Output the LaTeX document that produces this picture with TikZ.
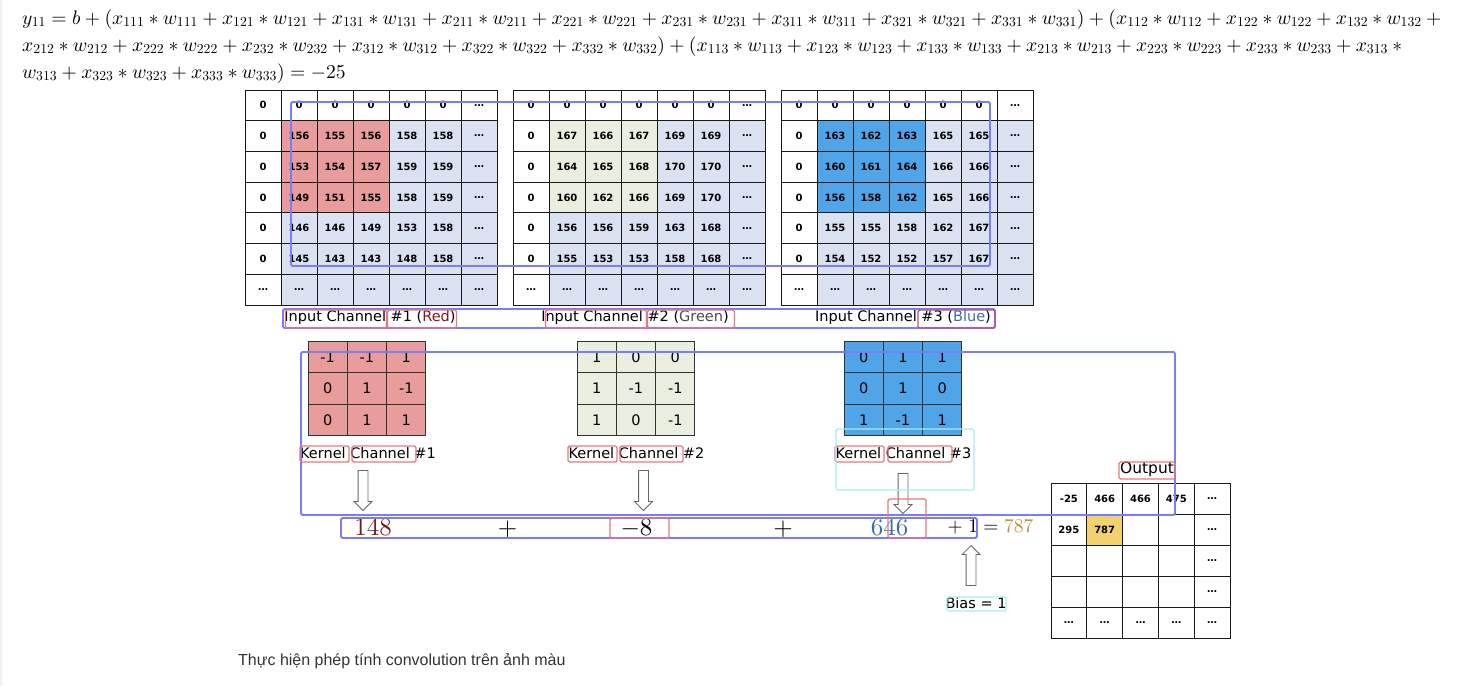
\RequirePackage{fix-cm}
\documentclass[tikz,border=0pt]{standalone}
\usepackage[no-math]{fontspec}
\newfontfamily\cellfont{DejaVu Sans}
\newfontfamily\capfont{Liberation Sans}
\usepackage{amsmath}
\DeclareFontShape{OT1}{cmr}{m}{n}{<->cmr10}{}
\DeclareFontShape{OML}{cmm}{m}{it}{<->cmmi10}{}
\DeclareFontShape{OMS}{cmsy}{m}{n}{<->cmsy10}{}
\usetikzlibrary{positioning}
\usetikzlibrary{shapes.arrows}
\definecolor{redcell}{RGB}{232,156,156}
\definecolor{greencell}{RGB}{234,238,222}
\definecolor{bluecell}{RGB}{80,164,232}
\definecolor{lightcell}{RGB}{218,226,241}
\definecolor{yellowcell}{RGB}{242,210,110}
\definecolor{boxblue}{RGB}{122,126,246}
\definecolor{boxred}{RGB}{232,118,128}
\definecolor{boxpurple}{RGB}{192,80,122}
\definecolor{boxcyan}{RGB}{166,238,244}
\definecolor{valred}{RGB}{122,26,26}
\definecolor{valblue}{RGB}{62,108,168}
\definecolor{valgold}{RGB}{180,146,56}
\definecolor{capgray}{RGB}{51,51,51}

\begin{document}
\begin{tikzpicture}[x=1pt,y=-1pt,
  cell/.style={draw=black!90, line width=0.8pt, minimum width=36pt, minimum height=30.7pt,
    inner sep=0pt, font=\cellfont\bfseries\fontsize{10}{12}\selectfont},
  ocell/.style={cell, minimum width=35.8pt, minimum height=31pt},
  kcell/.style={draw=black!80, line width=1pt, minimum width=39.3pt, minimum height=31.6pt,
    inner sep=0pt, font=\cellfont\fontsize{14.5}{17}\selectfont},
  label/.style={inner sep=0pt, font=\cellfont\fontsize{14.5}{17}\selectfont},
  bluebox/.style={draw=boxblue, line width=1.8pt, rounded corners=1.5pt},
  redbox/.style={draw=boxred, line width=1.4pt, rounded corners=1.5pt},
  cyanbox/.style={draw=boxcyan, line width=1.4pt, rounded corners=1.5pt},
  blockarrow/.style={single arrow, draw=black!60, fill=white, line width=0.8pt,
    minimum height=40pt, text height=4.5pt, text depth=4.5pt, inner sep=0pt,
    single arrow head extend=4pt, single arrow head indent=0pt},
  bignum/.style={inner sep=0pt, font=\fontsize{25}{29}\selectfont},
  formula/.style={anchor=base west, inner sep=0pt, font=\fontsize{19.6}{27}\selectfont}]

\useasboundingbox (0,0) rectangle (1457,686);
\fill[black!5] (0,0) rectangle (2,686);

%---------------------------------------
% Formula
%---------------------------------------
\node[formula] (f1) at (22,24) {$y_{11} = b + (x_{111} * w_{111} + x_{121} * w_{121} + x_{131} * w_{131} + x_{211} * w_{211} + x_{221} * w_{221} + x_{231} * w_{231} + x_{311} * w_{311} + x_{321} * w_{321} + x_{331} * w_{331}) + (x_{112} * w_{112} + x_{122} * w_{122} + x_{132} * w_{132} + {}$};
\node[formula] (f2) at (22,51) {$x_{212} * w_{212} + x_{222} * w_{222} + x_{232} * w_{232} + x_{312} * w_{312} + x_{322} * w_{322} + x_{332} * w_{332}) + (x_{113} * w_{113} + x_{123} * w_{123} + x_{133} * w_{133} + x_{213} * w_{213} + x_{223} * w_{223} + x_{233} * w_{233} + x_{313} * {}$};
\node[formula] (f3) at (22,78) {$w_{313} + x_{323} * w_{323} + x_{333} * w_{333}) = -25$};

% Input values
\def\redvals{{0,0,0,0,0,0,\ldots},{0,156,155,156,158,158,\ldots},{0,153,154,157,159,159,\ldots},{0,149,151,155,158,159,\ldots},{0,146,146,149,153,158,\ldots},{0,145,143,143,148,158,\ldots},{\ldots,\ldots,\ldots,\ldots,\ldots,\ldots,\ldots}}
\def\greenvals{{0,0,0,0,0,0,\ldots},{0,167,166,167,169,169,\ldots},{0,164,165,168,170,170,\ldots},{0,160,162,166,169,170,\ldots},{0,156,156,159,163,168,\ldots},{0,155,153,153,158,168,\ldots},{\ldots,\ldots,\ldots,\ldots,\ldots,\ldots,\ldots}}
\def\bluevals{{0,0,0,0,0,0,\ldots},{0,163,162,163,165,165,\ldots},{0,160,161,164,166,166,\ldots},{0,156,158,162,165,166,\ldots},{0,155,155,158,162,167,\ldots},{0,154,152,152,157,167,\ldots},{\ldots,\ldots,\ldots,\ldots,\ldots,\ldots,\ldots}}

%====================================================
% Input channel #1 (Red)
%====================================================
\begin{scope}[xshift=245pt]
  \fill[lightcell] (36,120.7) rectangle (252,304.9);
  \fill[redcell] (36,120.7) rectangle (144,212.1);
  \foreach \row [count=\i from 0] in \redvals {
    \foreach \v [count=\j from 0] in \row
      \node[cell] (r-\i-\j) at ({36*\j+18},{90+30.7*\i+15.35}) {\v};
  }
  \node[label] (rlab) at (125,317.5) {Input Channel \#1 (\textcolor{valred}{Red})};
\end{scope}

%====================================================
% Input channel #2 (Green)
%====================================================
\begin{scope}[xshift=513pt]
  \fill[lightcell] (36,120.7) rectangle (252,304.9);
  \fill[greencell] (36,120.7) rectangle (144,212.1);
  \foreach \row [count=\i from 0] in \greenvals {
    \foreach \v [count=\j from 0] in \row
      \node[cell] (g-\i-\j) at ({36*\j+18},{90+30.7*\i+15.35}) {\v};
  }
  \node[label] (glab) at (122,317.5) {Input Channel \#2 (\textcolor{black!70}{Green})};
\end{scope}

%====================================================
% Input channel #3 (Blue)
%====================================================
\begin{scope}[xshift=781pt]
  \fill[lightcell] (36,120.7) rectangle (252,304.9);
  \fill[bluecell] (36,120.7) rectangle (144,212.1);
  \foreach \row [count=\i from 0] in \bluevals {
    \foreach \v [count=\j from 0] in \row
      \node[cell] (b-\i-\j) at ({36*\j+18},{90+30.7*\i+15.35}) {\v};
  }
  \node[label] (blab) at (122,317.5) {Input Channel \#3 (\textcolor{valblue}{Blue})};
\end{scope}

%====================================================
% Kernels
%====================================================
\foreach \row [count=\i from 0] in {{-1,-1,1},{0,1,-1},{0,1,1}}
  \foreach \v [count=\j from 0] in \row
    \node[kcell, fill=redcell] (k1-\i-\j) at ({308+39.3*\j+19.65},{341+31.6*\i+15.8}) {\v};
\foreach \row [count=\i from 0] in {{1,0,0},{1,-1,-1},{1,0,-1}}
  \foreach \v [count=\j from 0] in \row
    \node[kcell, fill=greencell] (k2-\i-\j) at ({577+39.3*\j+19.65},{341+31.6*\i+15.8}) {\v};
\foreach \row [count=\i from 0] in {{0,1,1},{0,1,0},{1,-1,1}}
  \foreach \v [count=\j from 0] in \row
    \node[kcell, fill=bluecell] (k3-\i-\j) at ({844+39.3*\j+19.65},{341+31.6*\i+15.8}) {\v};

\node[label] (k1lab) at (368,453.5) {Kernel Channel \#1};
\node[label] (k2lab) at (636.5,453.5) {Kernel Channel \#2};
\node[label] (k3lab) at (903.5,453.5) {Kernel Channel \#3};

% Arrows
\node[blockarrow, rotate=-90] (a1) at (363,488) {};
\node[blockarrow, rotate=-90] (a2) at (643.5,488) {};
\node[blockarrow, rotate=-90] (a3) at (903,491) {};
\node[blockarrow, rotate=90] (a4) at (971,568) {};
\node[label] (bias) at (976,603.5) {Bias = 1};

% Sum
\node[bignum, anchor=base, text=valred] (s1) at (373,535) {$148$};
\node[bignum, anchor=base] (p1) at (507.5,535) {$+$};
\node[bignum, anchor=base] (s2) at (636.5,535) {$-8$};
\node[bignum, anchor=base] (p2) at (783,535) {$+$};
\node[bignum, anchor=base, text=valblue] (s3) at (889.5,535) {$646$};
\node[anchor=base west, inner sep=0pt, font=\fontsize{19.5}{22}\selectfont] (res) at (947.5,532) {$+\;1 = \textcolor{valgold}{787}$};

%====================================================
% Output
%====================================================
\fill[yellowcell] (1086.8,514) rectangle (1122.6,545);
\foreach \row [count=\i from 0] in {{-25,466,466,475,\ldots},{295,787,{},{},\ldots},{{},{},{},{},\ldots},{{},{},{},{},\ldots},{\ldots,\ldots,\ldots,\ldots,\ldots}}
  \foreach \v [count=\j from 0] in \row
    \node[ocell] (o-\i-\j) at ({1051+35.8*\j+17.9},{483+31*\i+15.5}) {\v};
\node[label, font=\cellfont\fontsize{15.5}{18}\selectfont] (olab) at (1147,469.5) {Output};

% Caption
\node[anchor=base west, inner sep=0pt, text=capgray, font=\capfont\fontsize{16}{19}\selectfont] (cap) at (238,665.5) {Thực hiện phép tính convolution trên ảnh màu};

%---------------------------------------
% Overlay boxes
%---------------------------------------
\draw[bluebox] (291,102) rectangle (990,266);
\draw[bluebox] (283,309) rectangle (995,328);
\draw[bluebox] (301,352) rectangle (1175,515);
\draw[bluebox] (341,518) rectangle (977,538);
\draw[redbox] (285.5,310) rectangle (386.5,328);
\draw[redbox] (387.5,310) rectangle (456.5,328);
\draw[redbox] (545.5,310) rectangle (646.5,328);
\draw[redbox] (647.5,310) rectangle (734.5,328);
\draw[redbox, draw=boxpurple] (918,310) rectangle (995,328);
\draw[redbox] (300,446) rectangle (349,462);
\draw[redbox] (352,446) rectangle (416,462);
\draw[redbox] (568,446) rectangle (617,462);
\draw[redbox] (620,446) rectangle (683,462);
\draw[redbox] (835,446) rectangle (884,462);
\draw[redbox] (888,446) rectangle (952,462);
\draw[cyanbox] (836,429) rectangle (974,490);
\draw[redbox] (610,518) rectangle (669,538);
\draw[redbox] (888,499) rectangle (926,538);
\draw[redbox] (1119,462) rectangle (1175,479);
\draw[cyanbox] (947,597) rectangle (1006,611);

\end{tikzpicture}
\end{document}
